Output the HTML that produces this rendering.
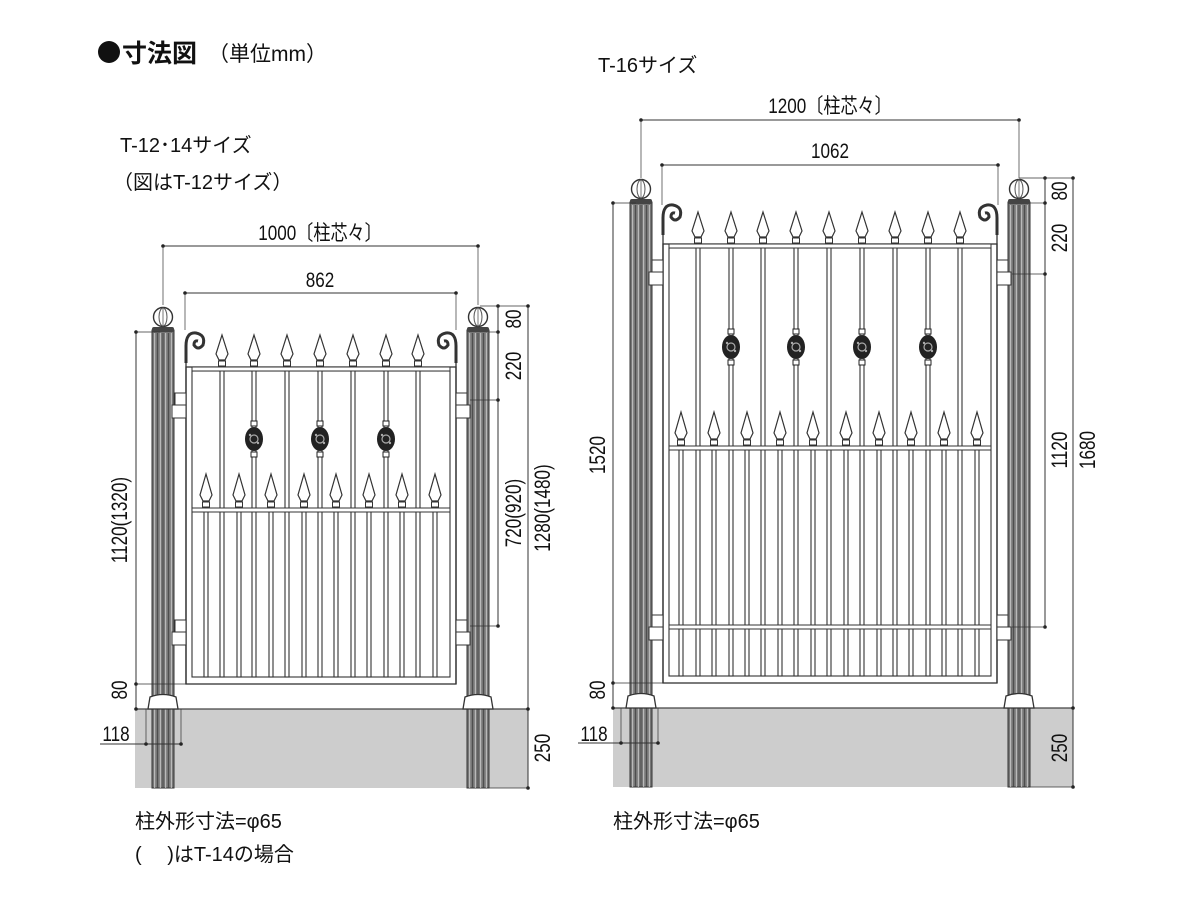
<!DOCTYPE html>
<html><head><meta charset="utf-8"><style>
body{margin:0;background:#fff;width:1200px;height:900px;overflow:hidden}
svg{display:block}
text{font-family:"Liberation Sans","Noto Sans CJK JP",sans-serif;fill:#111}
</style></head><body>
<svg id="s" width="1200" height="900" xmlns="http://www.w3.org/2000/svg">
<circle cx="109" cy="52" r="11" fill="#111"/>
<text x="122" y="62" font-size="25" font-weight="bold">寸法図</text>
<text x="208" y="61" font-size="21">（単位mm）</text>
<text x="598" y="72" font-size="20">T-16サイズ</text>
<text x="120" y="152" font-size="20">T-12･14サイズ</text>
<text x="113" y="189" font-size="20">（図はT-12サイズ）</text>
<text x="135" y="828" font-size="20">柱外形寸法=φ65</text>
<text x="135" y="861" font-size="20">(　 )はT-14の場合</text>
<text x="613" y="828" font-size="20">柱外形寸法=φ65</text>
</svg>
<script>
const s=document.getElementById('s');let h='';
const L=(x1,y1,x2,y2,w=1,c='#333')=>h+=`<line x1="${x1}" y1="${y1}" x2="${x2}" y2="${y2}" stroke="${c}" stroke-width="${w}"/>`;
const D=(x,y)=>h+=`<circle cx="${x}" cy="${y}" r="1.8" fill="#222"/>`;
const T=(x,y,t,sz=19,rot=false)=>h+= rot?`<text x="${x}" y="${y}" font-size="${sz}" text-anchor="middle" transform="rotate(-90 ${x} ${y}) scale(0.9 1.15) translate(${x/0.9-x} ${y/1.15-y})">${t}</text>`:`<text x="${x}" y="${y}" font-size="${sz}" text-anchor="middle" transform="scale(0.9 1.1) translate(${x/0.9-x} ${y/1.1-y})">${t}</text>`;
function post(x1,x2,top,bot,baseY){
  const cx=(x1+x2)/2;
  h+=`<rect x="${x1}" y="${top}" width="${x2-x1}" height="${bot-top}" fill="#777" stroke="#333"/>`;
  for(let i=1;i<8;i++){L(x1+i*(x2-x1)/8,top+3,x1+i*(x2-x1)/8,bot,0.8,i%2?'#ddd':'#444');}
  h+=`<rect x="${x1}" y="${top-3}" width="${x2-x1}" height="5" rx="2" fill="#444"/>`;
  h+=`<circle cx="${cx}" cy="${top-13}" r="9.5" fill="#fff" stroke="#333" stroke-width="1.4"/>`;
  h+=`<ellipse cx="${cx}" cy="${top-13}" rx="4" ry="9" fill="none" stroke="#555"/>`;L(cx,top-22,cx,top-4,0.8,'#555');
  h+=`<path d="M${x1-4} ${baseY} L${x1-2} ${baseY-12} Q${cx} ${baseY-17} ${x2+2} ${baseY-12} L${x2+4} ${baseY} Z" fill="#fff" stroke="#333" stroke-width="1.3"/>`;
}
function spear(x,tip,base){
  h+=`<path d="M${x} ${tip} L${x+6} ${base-13} L${x+3} ${base-7} L${x-3} ${base-7} L${x-6} ${base-13} Z" fill="#fff" stroke="#333" stroke-width="1.2"/>`;
  h+=`<rect x="${x-3.5}" y="${base-6}" width="7" height="5" fill="#fff" stroke="#333"/>`;
}
function bar(x,y1,y2){h+=`<rect x="${x-2}" y="${y1}" width="4" height="${y2-y1}" fill="#fff" stroke="#333" stroke-width="1.1"/>`;}
function orn(x,y){h+=`<rect x="${x-3}" y="${y-18}" width="6" height="5" fill="#fff" stroke="#222"/><rect x="${x-3}" y="${y+13}" width="6" height="5" fill="#fff" stroke="#222"/><ellipse cx="${x}" cy="${y}" rx="9" ry="12" fill="#222"/><circle cx="${x}" cy="${y}" r="4" fill="none" stroke="#aaa" stroke-width="1.2"/><circle cx="${x-4}" cy="${y-4}" r="1.2" fill="#aaa"/><circle cx="${x+4}" cy="${y+4}" r="1.2" fill="#aaa"/>`;}
function scroll(x,y,dir){h+=`<path d="M${x} ${y+25} L${x} ${y+8} Q${x} ${y-6} ${x+dir*10} ${y-5} Q${x+dir*20} ${y-3} ${x+dir*17} ${y+7} Q${x+dir*12} ${y+13} ${x+dir*8} ${y+7} Q${x+dir*8} ${y+2} ${x+dir*12} ${y+3}" fill="none" stroke="#333" stroke-width="3"/>`;}
function hinge(x,y,dir){const a=dir>0?x:x-14;h+=`<rect x="${a+(dir>0?3:0)}" y="${y-12}" width="11" height="12" fill="#fff" stroke="#333"/><rect x="${a}" y="${y}" width="14" height="13" fill="#fff" stroke="#333"/>`;}
function gate(o){
  const {fx1,fx2,top,rail,mid,bot,low}=o;
  h+=`<rect x="${o.gx1}" y="${o.gy}" width="${o.gx2-o.gx1}" height="${o.gy2-o.gy}" fill="#cdcdcd"/>`;
  L(o.gx1,o.gy,o.gx2,o.gy,1.2,'#444');
  h+=`<rect x="${fx1}" y="${rail}" width="${fx2-fx1}" height="${bot-rail}" fill="none" stroke="#333" stroke-width="1.3"/>`;
  h+=`<rect x="${fx1+6}" y="${rail+4}" width="${fx2-fx1-12}" height="${bot-rail-11}" fill="none" stroke="#333" stroke-width="1.1"/>`;
  o.lb.forEach(x=>{bar(x,mid,bot-7);spear(x,mid-34,mid);});
  o.tb.forEach((x,i)=>{bar(x,rail,bot-7);spear(x,rail-32,rail);});
  h+=`<rect x="${fx1+6}" y="${rail}" width="${fx2-fx1-12}" height="4" fill="#fff" stroke="#333"/>`;
  h+=`<rect x="${fx1+6}" y="${mid}" width="${fx2-fx1-12}" height="4" fill="#fff" stroke="#333"/>`;
  if(low)h+=`<rect x="${fx1+6}" y="${low}" width="${fx2-fx1-12}" height="4" fill="#fff" stroke="#333"/>`;
  o.orn.forEach(x=>orn(x,o.oy));
  scroll(fx1,top,1);scroll(fx2,top,-1);
  L(fx1,top+20,fx1,bot,1.3);L(fx2,top+20,fx2,bot,1.3);
  post(o.p1[0],o.p1[1],o.ptop,o.gy2,o.gy);post(o.p2[0],o.p2[1],o.ptop,o.gy2,o.gy);
  o.hy.forEach(y=>{hinge(fx1-14,y,1);hinge(fx2+14,y,-1);});
}
gate({gx1:135,gx2:528,gy:709,gy2:788,fx1:186,fx2:456,top:338,rail:367,mid:508,bot:684,
 lb:[206,239,271,304,336,369,402,435],tb:[222,254,287,320,353,386,418],orn:[254,320,386],oy:439,
 p1:[152,174],p2:[467,489],ptop:330,hy:[405,632]});
gate({gx1:613,gx2:1073,gy:708,gy2:787,fx1:663,fx2:997,top:210,rail:244,mid:446,low:625,bot:683,
 lb:[681,714,747,780,813,846,879,911,944,977],tb:[698,731,763,796,829,862,895,928,960],orn:[731,796,862,928],oy:347,
 p1:[630,652],p2:[1008,1030],ptop:202,hy:[272,627]});
L(163,246,478,246);D(163,246);D(478,246);L(163,246,163,305,0.7);L(478,246,478,305,0.7);T(320,240,'1000〔柱芯々〕');
L(185,293,456,293);D(185,293);D(456,293);L(185,293,185,330,0.7);L(456,293,456,330,0.7);T(320,287,'862');
L(498,306,498,626);[306,332,400,626].forEach(y=>D(498,y));L(480,306,528,306,0.7);L(489,332,498,332,0.7);L(470,400,498,400,0.7);L(470,626,498,626,0.7);
T(521,319,'80',19,true);T(521,366,'220',19,true);T(521,513,'720(920)',19,true);
L(528,306,528,788);[306,709,788].forEach(y=>D(528,y));L(489,788,528,788,0.7);T(550,508,'1280(1480)',19,true);T(550,748,'250',19,true);
L(136,332,136,709);[332,684,709].forEach(y=>D(136,y));L(136,332,160,332,0.7);L(136,684,186,684,0.7);
T(127,520,'1120(1320)',19,true);T(127,690,'80',19,true);
L(100,744,181,744);D(146,744);D(181,744);L(146,709,146,744,0.7);L(181,709,181,744,0.7);T(116,741,'118');
L(641,120,1019,120);D(641,120);D(1019,120);L(641,120,641,178,0.7);L(1019,120,1019,178,0.7);T(830,113,'1200〔柱芯々〕');
L(662,165,998,165);D(662,165);D(998,165);L(662,165,662,205,0.7);L(998,165,998,205,0.7);T(830,158,'1062');
L(1045,178,1045,627);[178,203,274,627].forEach(y=>D(1045,y));L(1019,178,1073,178,0.7);L(1030,203,1045,203,0.7);L(1012,274,1045,274,0.7);L(1012,627,1045,627,0.7);
T(1067,191,'80',19,true);T(1067,238,'220',19,true);T(1067,450,'1120',19,true);
L(1073,178,1073,787);[178,708,787].forEach(y=>D(1073,y));L(1030,787,1073,787,0.7);T(1095,450,'1680',19,true);T(1067,748,'250',19,true);
L(613,203,613,708);[203,683,708].forEach(y=>D(613,y));L(613,203,636,203,0.7);L(613,683,663,683,0.7);
T(605,455,'1520',19,true);T(605,690,'80',19,true);
L(578,743,658,743);D(621,743);D(658,743);L(621,708,621,743,0.7);L(658,708,658,743,0.7);T(594,741,'118');
s.insertAdjacentHTML('beforeend',h);
</script>
</body></html>
